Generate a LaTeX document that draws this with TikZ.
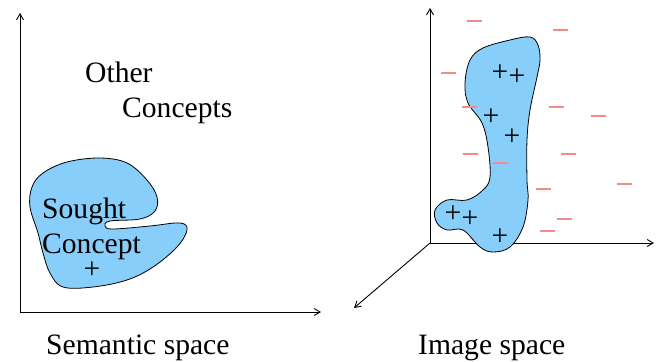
\documentclass[tikz,border=0pt]{standalone}
\usepackage{fontspec}
\setmainfont{Liberation Serif}
\usetikzlibrary{arrows.meta}
\definecolor{blobblue}{HTML}{87CEFA}
\definecolor{minuspink}{HTML}{F48A8A}
\begin{document}
\begin{tikzpicture}[x=1pt,y=-1pt,
  axis/.style={line width=0.9pt,-{Straight Barb[length=6pt,width=7pt]}},
  blob/.style={draw=black,line width=0.8pt,fill=blobblue},
  lbl/.style={font=\fontsize{29.6}{34}\selectfont,inner sep=0pt,anchor=base west},
  plusmark/.style={font=\fontsize{29.6}{34}\selectfont,inner sep=0pt,anchor=center},
  minusmark/.style={draw=minuspink,line width=1.4pt}]
\useasboundingbox (0,0) rectangle (660,361);
% left panel
\coordinate (lo) at (20,312);
\coordinate (ly) at (20,13);
\coordinate (lx) at (321,312);
\draw[axis] (lo) -- (ly);
\draw[axis] (lo) -- (lx);
\draw[blob] plot[smooth cycle,tension=0.6] coordinates {
 (32,187) (43,173) (67,162) (100,158) (127,163) (147,180) (157,197) (155,211)
 (140,219) (110,221) (105,226) (113,229) (150,226) (180,223) (187,230) (177,247)
 (153,267) (127,280) (93,287) (63,287) (50,273) (43,253) (38,233) (30,207)};
\node[lbl] (other) at (85,82) {Other};
\node[lbl] (concepts) at (122,117) {Concepts};
\node[lbl] (sought) at (42,218) {Sought};
\node[lbl] (concept) at (42,253) {Concept};
\node[plusmark] (p0) at (92,270) {+};
\node[lbl] (sem) at (46,354) {Semantic space};
% right panel
\coordinate (ro) at (430,243);
\coordinate (ry) at (430,8);
\coordinate (rx) at (654,243);
\coordinate (rz) at (354,308);
\draw[axis] (ro) -- (ry);
\draw[axis] (ro) -- (rx);
\draw[axis] (ro) -- (rz);
\draw[blob] plot[smooth cycle,tension=0.6] coordinates {
 (530,37) (510,40) (483,48) (470,60) (465,83) (468,103) (482,123) (488,147)
 (490,177) (483,190) (467,200) (447,200) (435,210) (437,223) (447,230) (463,230)
 (480,247) (493,252) (510,247) (523,227) (528,200) (527,180) (527,140) (530,110)
 (537,77) (540,60) (538,45)};
\foreach \x/\y [count=\i] in {500/73,517/77,491/117,512/137,453/214,470/219,500/237}
  \node[plusmark] (p\i) at (\x,\y) {+};
\foreach \x/\y in {474/21,560/30,448/73,469/107,556/107,598/116,470/154,568/154,
  500/163,543/189,624/184,564/219,547/231}
  \draw[minusmark] (\x-7.5,\y) -- (\x+7.5,\y);
\node[lbl] (img) at (418,354) {Image space};
\end{tikzpicture}
\end{document}
